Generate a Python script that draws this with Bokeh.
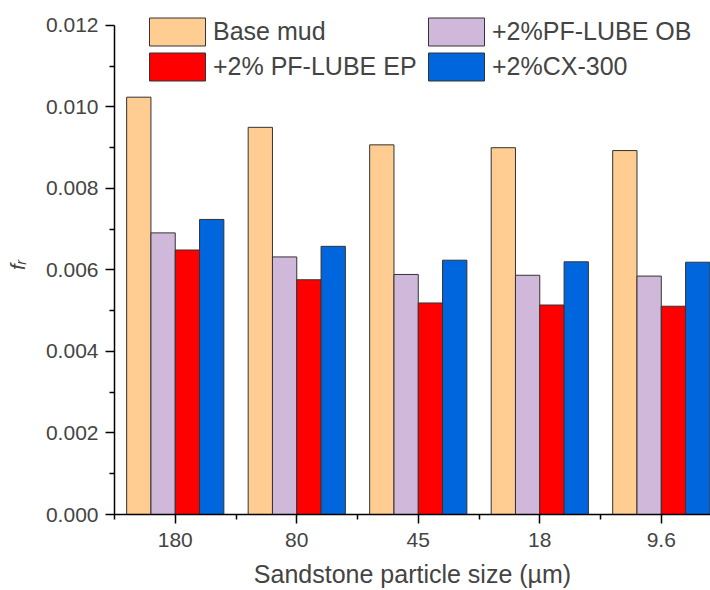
from bokeh.plotting import figure
from bokeh.models import (ColumnDataSource, FixedTicker, Legend, LegendItem,
                          Range1d)
from bokeh.embed import file_html
from bokeh.resources import INLINE

categories = ["180", "80", "45", "18", "9.6"]
series_names = ["Base mud", "+2%PF-LUBE OB", "+2% PF-LUBE EP", "+2%CX-300"]
base_mud = [0.01024, 0.00950, 0.00907, 0.00900, 0.00893]
pf_lube_ob = [0.00691, 0.00632, 0.00589, 0.00587, 0.00585]
pf_lube_ep = [0.00649, 0.00576, 0.00519, 0.00514, 0.00511]
cx_300 = [0.00724, 0.00658, 0.00624, 0.00620, 0.00619]
y_ticks = [0.000, 0.002, 0.004, 0.006, 0.008, 0.010, 0.012]

colors = ["#FFCC92", "#D0B8DB", "#FF0000", "#0066DD"]
series = [base_mud, pf_lube_ob, pf_lube_ep, cx_300]
offsets = [-0.3, -0.1, 0.1, 0.3]

FONT = "Liberation Sans"

p = figure(width=710, height=590, output_backend="svg", toolbar_location=None,
           x_range=Range1d(0.5, 5.405), y_range=Range1d(0, 0.012244),
           min_border_left=114, min_border_right=0, min_border_top=15,
           min_border_bottom=73)
p.outline_line_color = None
p.grid.visible = False
p.background_fill_color = "white"

renderers = []
for vals, col, off in zip(series, colors, offsets):
    xs = [i + 1 + off for i in range(len(categories))]
    src = ColumnDataSource(dict(x=xs, top=vals))
    r = p.vbar(x="x", top="top", width=0.2, bottom=0, source=src,
               fill_color=col, line_color="#333333", line_width=1)
    renderers.append(r)

# x axis
xa = p.xaxis[0]
xa.ticker = FixedTicker(ticks=[1, 2, 3, 4, 5], minor_ticks=[0.5, 1.5, 2.5, 3.5, 4.5, 5.5])
xa.major_label_overrides = {i + 1: c for i, c in enumerate(categories)}
xa.axis_label = "Sandstone particle size (\u00b5m)"
xa.axis_label_text_font = FONT
xa.axis_label_text_font_size = "25px"
xa.axis_label_text_font_style = "normal"
xa.axis_label_standoff = 10
xa.major_label_text_font = FONT
xa.major_label_text_font_size = "21px"
xa.major_label_standoff = 9
xa.major_tick_out = 9
xa.major_tick_in = 0
xa.minor_tick_out = 5
xa.minor_tick_in = 0
xa.axis_line_width = 1.5
xa.major_tick_line_width = 1.5
xa.minor_tick_line_width = 1.5

# y axis
ya = p.yaxis[0]
ya.bounds = (0, 0.012)
ya.ticker = FixedTicker(ticks=y_ticks, minor_ticks=[0.001, 0.003, 0.005, 0.007, 0.009, 0.011])
ya.major_label_overrides = {t: f"{t:.3f}" for t in y_ticks}
ya.major_label_text_font = FONT
ya.major_label_text_font_size = "21px"
ya.major_label_standoff = 7
ya.major_tick_out = 9
ya.major_tick_in = 0
ya.minor_tick_out = 5
ya.minor_tick_in = 0
ya.axis_line_width = 1.5
ya.major_tick_line_width = 1.5
ya.minor_tick_line_width = 1.5
ya.axis_label = "f\u1d63"
ya.axis_label_text_font = FONT
ya.axis_label_text_font_size = "21px"
ya.axis_label_text_font_style = "italic"
ya.axis_label_standoff = 14

items = [LegendItem(label=n, renderers=[r]) for n, r in zip(series_names, renderers)]
common = dict(orientation="vertical", glyph_width=70, glyph_height=35,
              label_text_font=FONT, label_text_font_size="25px", spacing=-4,
              padding=0, margin=0, label_standoff=1, border_line_color=None,
              background_fill_alpha=0, label_height=35,
              label_text_baseline="middle")
legend1 = Legend(items=[items[0], items[2]], location=(28, 430), **common)
legend2 = Legend(items=[items[1], items[3]], location=(307, 430), **common)
p.add_layout(legend1)
p.add_layout(legend2)

open("out.html", "w").write(file_html(p, INLINE))
